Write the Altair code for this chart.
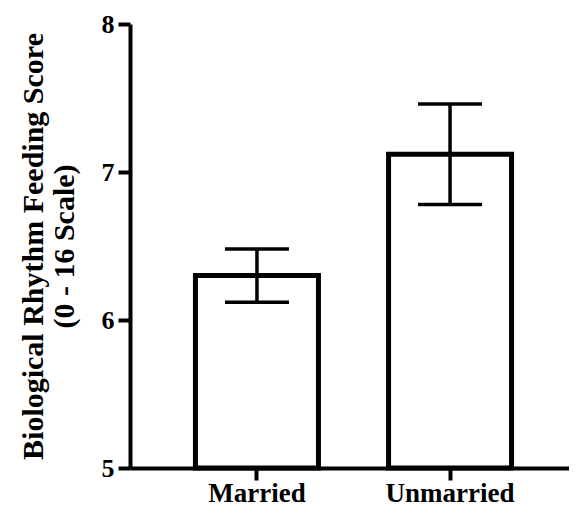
import altair as alt
import pandas as pd

groups = ["Married", "Unmarried"]
means = [6.30, 7.12]
errors = [0.18, 0.34]

df = pd.DataFrame({
    "group": groups,
    "mean": means,
    "lo": [m - e for m, e in zip(means, errors)],
    "hi": [m + e for m, e in zip(means, errors)],
    "base": [5, 5],
})

FONT = "Liberation Serif"

x = alt.X("group:N", sort=groups, title=None,
          scale=alt.Scale(paddingInner=0.363, paddingOuter=0.339, range=[0, 447]),
          axis=alt.Axis(labelAngle=0, labelFont=FONT, labelFontSize=27,
                        labelFontWeight="bold", labelColor="black",
                        labelPadding=0, tickSize=12, tickWidth=4,
                        tickColor="black", domainColor="black",
                        domainWidth=4, grid=False))

y_scale = alt.Scale(domain=[5, 8], zero=False, nice=False)
y_axis = alt.Axis(values=[5, 6, 7, 8], format="d", labelFont=FONT,
                  labelFontSize=26, labelFontWeight="bold",
                  labelColor="black", labelPadding=4, tickSize=12,
                  tickWidth=4, tickColor="black", domainColor="black",
                  domainWidth=4, grid=False,
                  title=["Biological Rhythm Feeding Score", "(0 - 16 Scale)"],
                  titleFont=FONT, titleFontSize=30, titleFontWeight="bold",
                  titleColor="black", titleLineHeight=31, titleX=-82,
                  titleY=222, titleAngle=-90, titleBaseline="bottom",
                  titleAlign="center")

bars = alt.Chart(df).mark_bar(fill="white", stroke="black", strokeWidth=5).encode(
    x=x,
    y=alt.Y("mean:Q", scale=y_scale, axis=y_axis),
    y2="base:Q",
)

stems = alt.Chart(df).mark_rule(color="black", strokeWidth=3.5).encode(
    x=alt.X("group:N", sort=groups),
    y="lo:Q",
    y2="hi:Q",
)

caps_lo = alt.Chart(df).mark_tick(color="black", size=64, thickness=3.5, opacity=1).encode(
    x=alt.X("group:N", sort=groups),
    y="lo:Q",
)
caps_hi = alt.Chart(df).mark_tick(color="black", size=64, thickness=3.5, opacity=1).encode(
    x=alt.X("group:N", sort=groups),
    y="hi:Q",
)

chart = alt.layer(bars, stems, caps_lo, caps_hi).properties(
    width=439,
    height=444,
    autosize=alt.AutoSizeParams(type="none"),
    padding={"left": 122, "top": 16, "right": 0, "bottom": 44},
    background="white",
).configure_view(stroke=None)

chart.save("out.html", embed_options={"renderer": "svg", "actions": False})
